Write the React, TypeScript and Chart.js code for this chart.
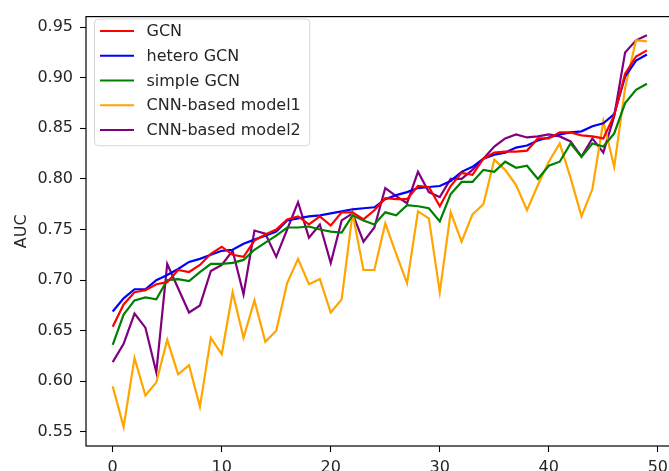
import React, { useEffect, useRef } from "react";
import { Chart, registerables } from "chart.js";

Chart.register(...registerables);

const seriesLabels = ["GCN", "hetero GCN", "simple GCN", "CNN-based model1", "CNN-based model2"];

const gcn = [
  0.654, 0.676, 0.688, 0.690, 0.696, 0.698, 0.710, 0.708, 0.715, 0.726,
  0.733, 0.725, 0.723, 0.739, 0.745, 0.750, 0.760, 0.763, 0.755, 0.763,
  0.754, 0.767, 0.767, 0.760, 0.769, 0.781, 0.780, 0.780, 0.793, 0.792,
  0.773, 0.793, 0.806, 0.804, 0.820, 0.826, 0.827, 0.827, 0.828, 0.840,
  0.840, 0.846, 0.846, 0.843, 0.842, 0.840, 0.863, 0.904, 0.921, 0.927,
];

const heteroGcn = [
  0.669, 0.682, 0.691, 0.691, 0.700, 0.705, 0.711, 0.718, 0.721, 0.725,
  0.729, 0.730, 0.736, 0.740, 0.744, 0.748, 0.759, 0.761, 0.763, 0.764,
  0.766, 0.768, 0.770, 0.771, 0.772, 0.780, 0.784, 0.787, 0.791, 0.792,
  0.793, 0.798, 0.807, 0.812, 0.820, 0.824, 0.826, 0.831, 0.833, 0.838,
  0.841, 0.844, 0.846, 0.847, 0.852, 0.855, 0.864, 0.901, 0.917, 0.923,
];

const simpleGcn = [
  0.636, 0.666, 0.680, 0.683, 0.681, 0.700, 0.701, 0.699, 0.708, 0.716,
  0.716, 0.717, 0.720, 0.730, 0.737, 0.744, 0.752, 0.752, 0.753, 0.750,
  0.748, 0.747, 0.764, 0.759, 0.755, 0.767, 0.764, 0.774, 0.773, 0.771,
  0.758, 0.785, 0.797, 0.797, 0.809, 0.807, 0.817, 0.811, 0.813, 0.800,
  0.813, 0.817, 0.835, 0.822, 0.835, 0.832, 0.845, 0.875, 0.888, 0.894,
];

const cnnModel1 = [
  0.595, 0.555, 0.623, 0.586, 0.599, 0.641, 0.607, 0.616, 0.575, 0.643,
  0.627, 0.688, 0.643, 0.680, 0.639, 0.650, 0.697, 0.721, 0.696, 0.701,
  0.668, 0.681, 0.766, 0.710, 0.710, 0.756, 0.726, 0.697, 0.768, 0.761,
  0.688, 0.767, 0.738, 0.765, 0.775, 0.819, 0.809, 0.794, 0.769, 0.794,
  0.817, 0.835, 0.801, 0.763, 0.790, 0.857, 0.812, 0.890, 0.937, 0.936,
];

const cnnModel2 = [
  0.619, 0.637, 0.667, 0.653, 0.609, 0.716, 0.692, 0.668, 0.675, 0.709,
  0.715, 0.729, 0.686, 0.749, 0.746, 0.723, 0.750, 0.777, 0.742, 0.755,
  0.717, 0.759, 0.766, 0.738, 0.752, 0.791, 0.783, 0.776, 0.807, 0.787,
  0.782, 0.800, 0.800, 0.809, 0.820, 0.832, 0.840, 0.844, 0.841, 0.842,
  0.844, 0.842, 0.837, 0.822, 0.840, 0.826, 0.862, 0.925, 0.937, 0.942,
];

const xTicks = [0, 10, 20, 30, 40, 50];
const yTicks = [0.55, 0.6, 0.65, 0.7, 0.75, 0.8, 0.85, 0.9, 0.95];

const colors = ["#ff0000", "#0000ff", "#008000", "#ffa500", "#800080"];
const allSeries = [gcn, heteroGcn, simpleGcn, cnnModel1, cnnModel2];

const FONT = "DejaVu Sans";
const TEXT = "#262626";

const framePlugin = {
  id: "frame",
  afterDatasetsDraw(chart: any) {
    const { ctx, chartArea } = chart;
    ctx.save();
    ctx.strokeStyle = "#000";
    ctx.lineWidth = 1.2;
    ctx.strokeRect(chartArea.left, chartArea.top, chartArea.right - chartArea.left, chartArea.bottom - chartArea.top);
    ctx.restore();
  },
};

const legendPlugin = {
  id: "innerLegend",
  afterDraw(chart: any) {
    const { ctx } = chart;
    const ds = chart.data.datasets;
    ctx.save();
    ctx.font = `16px "${FONT}"`;
    let maxW = 0;
    ds.forEach((d: any) => {
      maxW = Math.max(maxW, ctx.measureText(d.label).width);
    });
    const boxL = 94.5;
    const boxT = 19;
    const textX = 146.5;
    const rowH = 24.75;
    const firstY = 31;
    const boxW = textX - boxL + maxW + 9;
    const boxH = rowH * ds.length + 3;
    const r = 4;
    ctx.beginPath();
    ctx.moveTo(boxL + r, boxT);
    ctx.lineTo(boxL + boxW - r, boxT);
    ctx.quadraticCurveTo(boxL + boxW, boxT, boxL + boxW, boxT + r);
    ctx.lineTo(boxL + boxW, boxT + boxH - r);
    ctx.quadraticCurveTo(boxL + boxW, boxT + boxH, boxL + boxW - r, boxT + boxH);
    ctx.lineTo(boxL + r, boxT + boxH);
    ctx.quadraticCurveTo(boxL, boxT + boxH, boxL, boxT + boxH - r);
    ctx.lineTo(boxL, boxT + r);
    ctx.quadraticCurveTo(boxL, boxT, boxL + r, boxT);
    ctx.closePath();
    ctx.fillStyle = "rgba(255,255,255,0.8)";
    ctx.fill();
    ctx.strokeStyle = "#d6d6d6";
    ctx.lineWidth = 1;
    ctx.stroke();
    ds.forEach((d: any, i: number) => {
      const y = firstY + i * rowH;
      ctx.strokeStyle = d.borderColor;
      ctx.lineWidth = 2.2;
      ctx.beginPath();
      ctx.moveTo(100, y);
      ctx.lineTo(134, y);
      ctx.stroke();
      ctx.fillStyle = TEXT;
      ctx.textBaseline = "middle";
      ctx.textAlign = "left";
      ctx.fillText(d.label, textX, y + 1);
    });
    ctx.restore();
  },
};

export default function App() {
  const ref = useRef<HTMLCanvasElement | null>(null);

  useEffect(() => {
    document.body.style.margin = "0";
    const canvas = ref.current;
    if (!canvas) return;
    const chart = new Chart(canvas, {
      type: "line",
      data: {
        datasets: allSeries.map((s, k) => ({
          label: seriesLabels[k],
          data: s.map((v, i) => ({ x: i, y: v })),
          borderColor: colors[k],
          backgroundColor: colors[k],
          borderWidth: 2.2,
          pointRadius: 0,
          tension: 0,
          fill: false,
        })),
      },
      options: {
        animation: false,
        responsive: false,
        devicePixelRatio: 1,
        layout: { padding: { top: 10, right: 0, left: 0, bottom: 0 } },
        plugins: {
          legend: { display: false },
          tooltip: { enabled: false },
        },
        scales: {
          x: {
            type: "linear",
            min: -2.45,
            max: 51.45,
            afterBuildTicks: (axis: any) => {
              axis.ticks = xTicks.map((v) => ({ value: v }));
            },
            afterFit: (axis: any) => {
              axis.height = 25;
            },
            grid: {
              display: true,
              drawOnChartArea: false,
              drawTicks: true,
              tickLength: 6,
              tickColor: "#000",
              tickWidth: 1.1,
            },
            border: { display: false },
            ticks: {
              autoSkip: false,
              maxRotation: 0,
              padding: 6,
              color: TEXT,
              font: { family: FONT, size: 16 },
              callback: (v: any) => String(v),
            },
          },
          y: {
            type: "linear",
            min: 0.5361,
            max: 0.9604,
            afterBuildTicks: (axis: any) => {
              axis.ticks = yTicks.map((v) => ({ value: v }));
            },
            afterFit: (axis: any) => {
              axis.width = 86;
            },
            grid: {
              display: true,
              drawOnChartArea: false,
              drawTicks: true,
              tickLength: 6,
              tickColor: "#000",
              tickWidth: 1.1,
            },
            border: { display: false },
            ticks: {
              padding: 7,
              color: TEXT,
              font: { family: FONT, size: 16 },
              callback: (v: any) => Number(v).toFixed(2),
            },
            title: {
              display: true,
              text: "AUC",
              color: TEXT,
              font: { family: FONT, size: 16 },
              padding: { top: 12, bottom: 0 },
            },
          },
        },
      },
      plugins: [framePlugin, legendPlugin],
    } as any);
    return () => chart.destroy();
  }, []);

  return (
    <div style={{ position: "fixed", left: 0, top: 0, width: 669, height: 471, overflow: "hidden", background: "#fff" }}>
      <canvas ref={ref} width={674} height={471} style={{ display: "block", width: 674, height: 471 }} />
    </div>
  );
}
